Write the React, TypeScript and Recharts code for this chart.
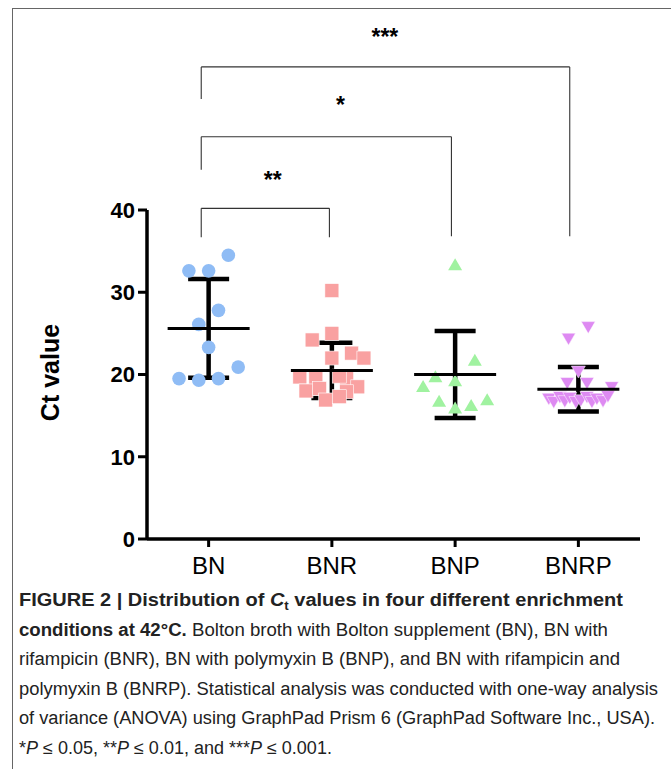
import { ScatterChart, Scatter, XAxis, YAxis, ErrorBar, ReferenceLine, ReferenceDot } from 'recharts';

const FONT = '"Liberation Sans", Arial, Helvetica, sans-serif';

const groups = ['BN', 'BNR', 'BNP', 'BNRP'];
const yTicks = [0, 10, 20, 30, 40];

// Ct values per condition, jitter = horizontal spread (in category widths) as drawn
const bnValues = [34.5, 32.6, 32.6, 27.8, 26.1, 23.3, 20.9, 19.5, 19.3, 19.5];
const bnJitter = [0.16, -0.16, 0, 0.08, -0.08, 0, 0.24, -0.24, -0.08, 0.08];

const bnrValues = [30.2, 25.0, 24.2, 22.6, 22.0, 22.0, 19.7, 19.5, 19.5, 19.8, 18.0, 18.3, 18.5, 17.9, 16.9, 17.3];
const bnrJitter = [0, 0, -0.16, 0.16, 0.26, 0, -0.26, -0.13, 0.12, 0.06, -0.21, -0.1, 0.21, 0.12, -0.05, 0.06];

const bnpValues = [33.4, 21.8, 19.8, 19.3, 18.6, 16.8, 16.0, 16.3, 17.0];
const bnpJitter = [0, 0.16, -0.16, 0, -0.26, -0.13, 0, 0.13, 0.26];

const bnrpValues = [25.7, 24.3, 20.3, 18.9, 18.9, 18.4, 17.0, 16.6, 17.2, 16.7, 17.1, 16.6, 16.8, 17.2, 16.6, 17.0, 16.7, 17.3];
const bnrpJitter = [0.08, -0.08, 0, -0.09, 0.07, 0.27, -0.24, -0.2, -0.15, -0.11, -0.07, -0.02, 0.02, 0.07, 0.11, 0.15, 0.2, 0.24];

// mean +/- SD as plotted
const groupMeans = [25.6, 20.5, 20.0, 18.2];
const groupSD = [6.0, 3.35, 5.3, 2.7];

// significance brackets (BN vs each)
const bracketLabels = ['**', '*', '***'];
const bracketFrom = [0.44, 0.44, 0.44];
const bracketTo = [1.48, 2.47, 3.43];
const bracketTop = [40.2, 48.9, 57.4];
const bracketLeftEnd = [36.7, 44.9, 53.5];
const bracketRightEnd = [36.7, 36.8, 36.8];
const starX = [1.02, 1.57, 1.93];
const starY = [44.3, 53.4, 61.6];

const toPoints = (values: number[], jitter: number[], idx: number) =>
  values.map((v, i) => ({ x: idx + 0.5 + jitter[i], y: v }));

const statsData = groups.map((g, i) => ({ name: g, x: i + 0.5, y: groupMeans[i], sd: groupSD[i] }));

const circleShape = (p: any) => <circle cx={p.cx} cy={p.cy} r={6.8} fill="#8FBCF5" />;
const squareShape = (p: any) => (
  <rect x={p.cx - 7} y={p.cy - 7} width={14} height={14} fill="#F9A1A1" stroke="#fff" strokeWidth={0.6} />
);
const triUpShape = (p: any) => (
  <polygon points={`${p.cx},${p.cy - 6} ${p.cx - 7},${p.cy + 6} ${p.cx + 7},${p.cy + 6}`} fill="#A0F2A0" />
);
const triDownShape = (p: any) => (
  <polygon
    points={`${p.cx - 7},${p.cy - 6} ${p.cx + 7},${p.cy - 6} ${p.cx},${p.cy + 6}`}
    fill="#DE8AF2"
    stroke="#fff"
    strokeWidth={0.5}
  />
);
const meanShape = (p: any) => (
  <line x1={p.cx - 41} x2={p.cx + 41} y1={p.cy} y2={p.cy} stroke="#000" strokeWidth={3} />
);

const YLabel = (props: any) => {
  const vb = props.viewBox || { x: 0, y: 210, width: 147, height: 329 };
  const x = vb.x + 50;
  const y = vb.y + vb.height / 2 - 2;
  return (
    <text
      x={x}
      y={y}
      transform={`rotate(-90, ${x}, ${y})`}
      textAnchor="middle"
      dominantBaseline="central"
      fontFamily={FONT}
      fontSize={25}
      fontWeight="bold"
      fill="#000"
    >
      Ct value
    </text>
  );
};

function SignificanceChart() {
  return (
    <ScatterChart width={671} height={600} margin={{ top: 210, right: 31, bottom: 21, left: 0 }}>
      <XAxis
        type="number"
        dataKey="x"
        domain={[0, 4]}
        ticks={[0.5, 1.5, 2.5, 3.5]}
        tickFormatter={(v: number) => groups[Math.round(v - 0.5)]}
        height={40}
        tickSize={8}
        tickMargin={10}
        axisLine={{ stroke: '#000', strokeWidth: 3.5 }}
        tickLine={{ stroke: '#000', strokeWidth: 3 }}
        tick={{ fill: '#000', fontSize: 24, fontFamily: FONT }}
      />
      <YAxis
        type="number"
        dataKey="y"
        domain={[0, 40]}
        ticks={yTicks}
        width={147}
        tickSize={9}
        tickMargin={3}
        axisLine={{ stroke: '#000', strokeWidth: 3.5 }}
        tickLine={{ stroke: '#000', strokeWidth: 3 }}
        tick={{ fill: '#000', fontSize: 22, fontWeight: 'bold', fontFamily: FONT }}
        label={YLabel}
      />
      <Scatter data={toPoints(bnValues, bnJitter, 0)} shape={circleShape} isAnimationActive={false} />
      <Scatter data={toPoints(bnrValues, bnrJitter, 1)} shape={squareShape} isAnimationActive={false} />
      <Scatter data={toPoints(bnpValues, bnpJitter, 2)} shape={triUpShape} isAnimationActive={false} />
      <Scatter data={toPoints(bnrpValues, bnrpJitter, 3)} shape={triDownShape} isAnimationActive={false} />
      <Scatter data={statsData} shape={meanShape} isAnimationActive={false}>
        <ErrorBar dataKey="sd" direction="y" width={20.5} strokeWidth={4.5} stroke="#000" />
      </Scatter>
      {bracketLabels.map((lab, i) => (
        <ReferenceLine
          key={`top-${lab}`}
          segment={[{ x: bracketFrom[i], y: bracketTop[i] }, { x: bracketTo[i], y: bracketTop[i] }]}
          stroke="#333"
          strokeWidth={1.1}
          ifOverflow="visible"
        />
      ))}
      {bracketLabels.map((lab, i) => (
        <ReferenceLine
          key={`left-${lab}`}
          segment={[{ x: bracketFrom[i], y: bracketTop[i] }, { x: bracketFrom[i], y: bracketLeftEnd[i] }]}
          stroke="#333"
          strokeWidth={1.1}
          ifOverflow="visible"
        />
      ))}
      {bracketLabels.map((lab, i) => (
        <ReferenceLine
          key={`right-${lab}`}
          segment={[{ x: bracketTo[i], y: bracketTop[i] }, { x: bracketTo[i], y: bracketRightEnd[i] }]}
          stroke="#333"
          strokeWidth={1.1}
          ifOverflow="visible"
        />
      ))}
      {bracketLabels.map((lab, i) => (
        <ReferenceDot
          key={`star-${lab}`}
          x={starX[i]}
          y={starY[i]}
          r={0}
          ifOverflow="visible"
          shape={(p: any) => (
            <text x={p.cx} y={p.cy + 13} textAnchor="middle" fontFamily={FONT} fontSize={23} fontWeight="bold" fill="#000">
              {lab}
            </text>
          )}
        />
      ))}
    </ScatterChart>
  );
}

function Caption() {
  const base = 26;
  const step = 29.5;
  return (
    <svg width={671} height={189} style={{ position: 'absolute', left: 0, top: 580 }}>
      <g fontFamily={FONT} fontSize={18} fill="#222">
        <text x={19} y={base} textLength={604} lengthAdjust="spacingAndGlyphs" fontWeight="bold">
          FIGURE 2 | Distribution of <tspan fontStyle="italic">C</tspan>
          <tspan fontSize={12} dy={4}>t</tspan>
          <tspan dy={-4}> values in four different enrichment</tspan>
        </text>
        <text x={19} y={base + step} textLength={589} lengthAdjust="spacingAndGlyphs">
          <tspan fontWeight="bold">conditions at 42°C.</tspan> Bolton broth with Bolton supplement (BN), BN with
        </text>
        <text x={19} y={base + step * 2} textLength={601} lengthAdjust="spacingAndGlyphs">
          rifampicin (BNR), BN with polymyxin B (BNP), and BN with rifampicin and
        </text>
        <text x={19} y={base + step * 3} textLength={639} lengthAdjust="spacingAndGlyphs">
          polymyxin B (BNRP). Statistical analysis was conducted with one-way analysis
        </text>
        <text x={19} y={base + step * 4} textLength={636} lengthAdjust="spacingAndGlyphs">
          of variance (ANOVA) using GraphPad Prism 6 (GraphPad Software Inc., USA).
        </text>
        <text x={19} y={base + step * 5}>
          *<tspan fontStyle="italic">P</tspan> ≤ 0.05, **<tspan fontStyle="italic">P</tspan> ≤ 0.01, and ***<tspan fontStyle="italic">P</tspan> ≤ 0.001.
        </text>
      </g>
    </svg>
  );
}

export default function App() {
  return (
    <div style={{ position: 'absolute', left: 0, top: 0, width: 671, height: 769, background: '#fff', fontFamily: FONT }}>
      <div
        style={{
          position: 'absolute',
          left: 12,
          top: 8,
          right: 0,
          bottom: 0,
          borderTop: '1px solid #666',
          borderLeft: '1px solid #666',
        }}
      />
      <div style={{ position: 'absolute', left: 0, top: 0 }}>
        <SignificanceChart />
      </div>
      <Caption />
    </div>
  );
}
